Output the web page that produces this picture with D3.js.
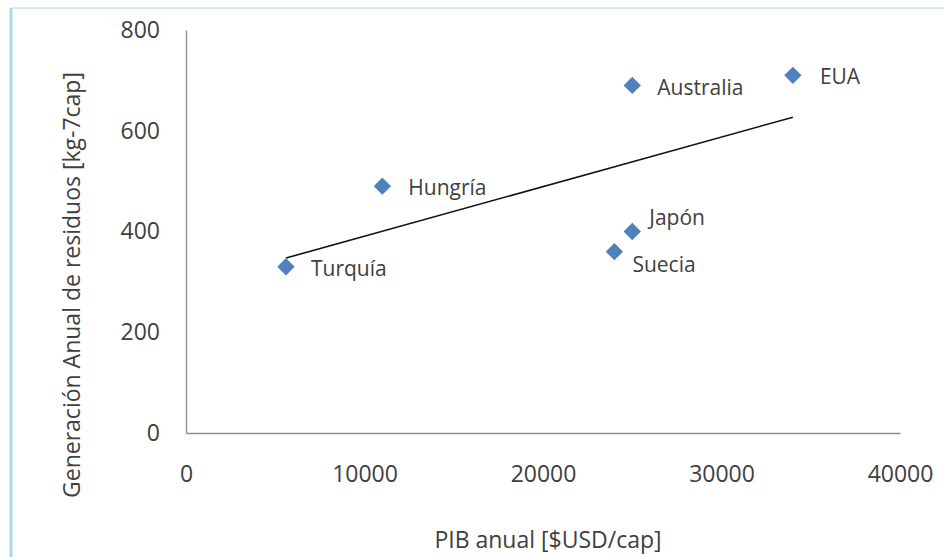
<html lang="es">
<head>
<meta charset="utf-8">
<title>PIB vs residuos</title>
<script src="https://cdnjs.cloudflare.com/ajax/libs/d3/7.8.5/d3.min.js"></script>
<style>
  body { margin: 0; background: #fff; }
  text { font-family: "Open Sans", sans-serif; fill: #404040; }
</style>
</head>
<body></body>
<script type="text/javascript">

//****************************************************************************************************************************//
// Data

var countries = ["Turquía", "Hungría", "Australia", "EUA", "Japón", "Suecia"];
var pib       = [5600, 11000, 25000, 34000, 25000, 24000];
var residuos  = [330, 490, 690, 710, 400, 360];

var xTicks = [0, 10000, 20000, 30000, 40000];
var yTicks = [0, 200, 400, 600, 800];

// label offsets (px) from each marker
var labelOffset = {
    "Turquía":   [25, 2],
    "Hungría":   [26, 1],
    "Australia": [25, 2],
    "EUA":       [27, 1],
    "Japón":     [17, -14],
    "Suecia":    [18, 13]
};

//****************************************************************************************************************************//
// Canvas

var width = 944, height = 557;

var svg = d3.select("body").append("svg")
    .attr("width", width)
    .attr("height", height);

// chart frame (left + top border)
svg.append("line").attr("x1", 11).attr("y1", 8).attr("x2", 11).attr("y2", height)
    .attr("stroke", "#a9dbe6").attr("stroke-width", 3);
svg.append("line").attr("x1", 11).attr("y1", 8).attr("x2", width).attr("y2", 8)
    .attr("stroke", "#a9dbe6").attr("stroke-width", 1.2);

var x = d3.scaleLinear().domain([0, 40000]).range([186, 900]);
var y = d3.scaleLinear().domain([0, 800]).range([433, 30]);

//****************************************************************************************************************************//
// Axes

var xAxis = svg.append("g")
    .attr("transform", "translate(0," + y(0) + ")")
    .call(d3.axisBottom(x).tickValues(xTicks).tickSize(0).tickPadding(33).tickFormat(d3.format("d")));

var yAxis = svg.append("g")
    .attr("transform", "translate(" + x(0) + ",0)")
    .call(d3.axisLeft(y).tickValues(yTicks).tickSize(0).tickPadding(26).tickFormat(d3.format("d")));

[xAxis, yAxis].forEach(function(g){
    g.select(".domain").attr("stroke", "#8c8c8c").attr("stroke-width", 1.3);
    g.selectAll("text").attr("font-size", 23).attr("font-family", "Open Sans").attr("fill", "#222");
});

svg.append("text")
    .attr("x", 548).attr("y", 548)
    .attr("text-anchor", "middle")
    .attr("font-size", 23)
    .text("PIB anual [$USD/cap]");

svg.append("text")
    .attr("transform", "translate(80,285) rotate(-90)")
    .attr("text-anchor", "middle")
    .attr("font-size", 23)
    .text("Generación Anual de residuos [kg-7cap]");

//****************************************************************************************************************************//
// Trend line (least squares from the data)

var n = pib.length;
var mx = d3.mean(pib), my = d3.mean(residuos);
var sxy = 0, sxx = 0;
for (var i = 0; i < n; i++) {
    sxy += (pib[i] - mx) * (residuos[i] - my);
    sxx += (pib[i] - mx) * (pib[i] - mx);
}
var slope = sxy / sxx, intercept = my - slope * mx;
var x0 = d3.min(pib), x1 = d3.max(pib);

svg.append("line")
    .attr("x1", x(x0)).attr("y1", y(intercept + slope * x0))
    .attr("x2", x(x1)).attr("y2", y(intercept + slope * x1))
    .attr("stroke", "#111").attr("stroke-width", 1.6);

//****************************************************************************************************************************//
// Points + labels

var points = countries.map(function(c, i){ return { name: c, px: pib[i], py: residuos[i] }; });

svg.selectAll(".pt").data(points).enter()
    .append("path")
    .attr("class", "pt")
    .attr("d", d3.symbol().type(d3.symbolSquare).size(150))
    .attr("transform", function(d){ return "translate(" + x(d.px) + "," + y(d.py) + ") rotate(45)"; })
    .attr("fill", "#4f81bd");

svg.selectAll(".lbl").data(points).enter()
    .append("text")
    .attr("class", "lbl")
    .attr("x", function(d){ return x(d.px) + labelOffset[d.name][0]; })
    .attr("y", function(d){ return y(d.py) + labelOffset[d.name][1]; })
    .attr("dy", "0.35em")
    .attr("font-size", 21)
    .text(function(d){ return d.name; });

</script>
</html>
